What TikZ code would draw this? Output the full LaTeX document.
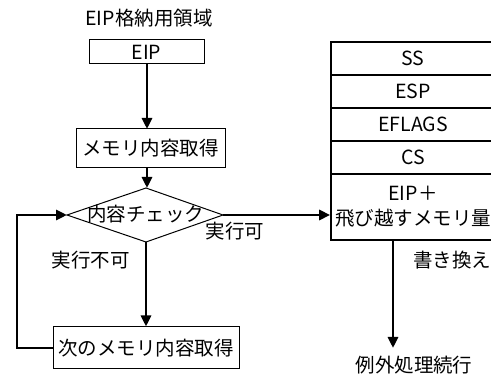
\documentclass[tikz,border=0pt]{standalone}
\usepackage{fontspec}
\setmainfont{Noto Sans CJK JP}
\usetikzlibrary{arrows.meta}
\tikzset{
  box/.style={draw, line width=1pt, inner sep=0pt, font=\fontsize{19.5}{25}\selectfont},
  row/.style={draw, line width=1.6pt, inner sep=0pt, minimum width=164pt, font=\fontsize{19.5}{25}\selectfont, align=center},
  lbl/.style={inner sep=0pt, font=\fontsize{19.5}{25}\selectfont},
  arr/.style={line width=2.8pt, -{Triangle[length=11pt,width=10pt]}},
}
\begin{document}
\begin{tikzpicture}[x=1pt,y=-1pt]
\useasboundingbox (0,0) rectangle (491,374);
\clip (0,0) rectangle (491,374);
\node[lbl] (title) at (149,18) {EIP格納用領域};
\node[box, minimum width=115pt, minimum height=24pt] (eip) at (146.5,52) {EIP};
\node[box, minimum width=149pt, minimum height=39pt] (mem) at (150.5,148.5) {メモリ内容取得};
\node[lbl] (chk) at (146,214) {内容チェック};
\coordinate (chkT) at (146,188);
\coordinate (chkR) at (223,215);
\coordinate (chkB) at (146,242);
\coordinate (chkL) at (67,215);
\draw[line width=1pt] (chkT) -- (chkR) -- (chkB) -- (chkL) -- cycle;
\node[box, minimum width=186pt, minimum height=42pt] (next) at (146,348) {次のメモリ内容取得};
% stack
\node[row, minimum height=33pt] (ss) at (413,58.5) {SS};
\node[row, minimum height=33pt] (esp) at (413,91.5) {ESP};
\node[row, minimum height=33pt] (efl) at (413,124.5) {EFLAGS};
\node[row, minimum height=33pt] (cs) at (413,157.5) {CS};
\node[row, minimum height=66pt] (eipp) at (413,207) {EIP＋\\飛び越すメモリ量};
% labels
\node[lbl] (ok) at (235,231) {実行可};
\node[lbl] (ng) at (91,260) {実行不可};
\node[lbl, anchor=west] (rw) at (413,260) {書き換え};
\node[lbl] (cont) at (414,365) {例外処理続行};
\coordinate (loopc) at (17,215);
\coordinate (contT) at (393,348);
% arrows
\draw[arr] (eip.south -| 147,0) -- (147,129);
\draw[arr] (mem.south -| 147,0) -- (chkT -| 147,0);
\draw[arr] (chkB) -- (chkB |- next.north);
\draw[arr] (next.west) -| (loopc) -- (chkL);
\draw[arr] (chkR) -- (chkR -| eipp.west);
\draw[arr] (contT |- eipp.south) -- (contT);
\end{tikzpicture}
\end{document}
